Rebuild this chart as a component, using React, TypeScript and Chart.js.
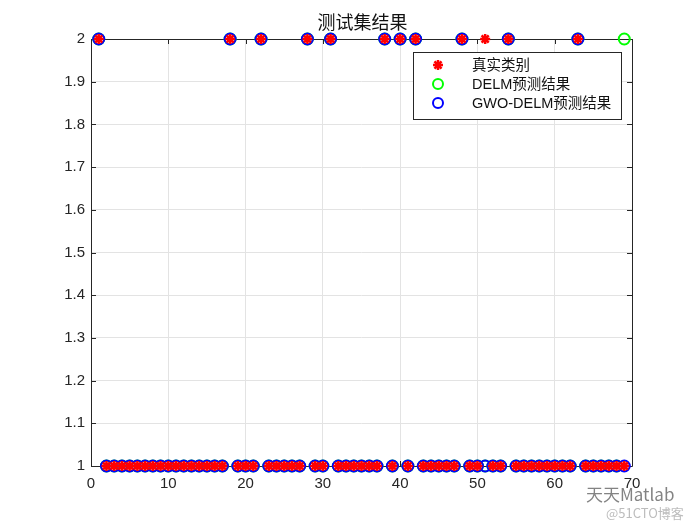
import React, { useEffect, useRef } from 'react';
import { Chart, registerables } from 'chart.js';
Chart.register(...registerables);

const sampleIndex = [
  1, 2, 3, 4, 5, 6, 7, 8, 9, 10, 11, 12, 13, 14, 15, 16, 17, 18, 19, 20,
  21, 22, 23, 24, 25, 26, 27, 28, 29, 30, 31, 32, 33, 34, 35, 36, 37, 38, 39, 40,
  41, 42, 43, 44, 45, 46, 47, 48, 49, 50, 51, 52, 53, 54, 55, 56, 57, 58, 59, 60,
  61, 62, 63, 64, 65, 66, 67, 68, 69,
];
const trueClass = [
  2, 1, 1, 1, 1, 1, 1, 1, 1, 1,
  1, 1, 1, 1, 1, 1, 1, 2, 1, 1,
  1, 2, 1, 1, 1, 1, 1, 2, 1, 1,
  2, 1, 1, 1, 1, 1, 1, 2, 1, 2,
  1, 2, 1, 1, 1, 1, 1, 2, 1, 1,
  2, 1, 1, 2, 1, 1, 1, 1, 1, 1,
  1, 1, 2, 1, 1, 1, 1, 1, 1,
];
const delmPred = [
  2, 1, 1, 1, 1, 1, 1, 1, 1, 1,
  1, 1, 1, 1, 1, 1, 1, 2, 1, 1,
  1, 2, 1, 1, 1, 1, 1, 2, 1, 1,
  2, 1, 1, 1, 1, 1, 1, 2, 1, 2,
  1, 2, 1, 1, 1, 1, 1, 2, 1, 1,
  1, 1, 1, 2, 1, 1, 1, 1, 1, 1,
  1, 1, 2, 1, 1, 1, 1, 1, 2,
];
const gwoPred = [
  2, 1, 1, 1, 1, 1, 1, 1, 1, 1,
  1, 1, 1, 1, 1, 1, 1, 2, 1, 1,
  1, 2, 1, 1, 1, 1, 1, 2, 1, 1,
  2, 1, 1, 1, 1, 1, 1, 2, 1, 2,
  1, 2, 1, 1, 1, 1, 1, 2, 1, 1,
  1, 1, 1, 2, 1, 1, 1, 1, 1, 1,
  1, 1, 2, 1, 1, 1, 1, 1, 1,
];
const seriesNames = ['真实类别', 'DELM预测结果', 'GWO-DELM预测结果'];
const titleText = '测试集结果';
const watermark1 = '天天Matlab';
const watermark2 = '@51CTO博客';

const AX = '#262626';
const GRID = '#e3e3e3';
const FONT = '"Liberation Sans", Arial, "Noto Sans CJK SC", sans-serif';

const decor = {
  id: 'matlabDecor',
  beforeDatasetsDraw(chart: any) {
    const { ctx, chartArea: a, scales } = chart;
    ctx.save();
    ctx.strokeStyle = AX;
    ctx.lineWidth = 1;
    ctx.beginPath();
    ctx.rect(Math.round(a.left) + 0.5, Math.round(a.top) + 0.5, Math.round(a.right - a.left), Math.round(a.bottom - a.top));
    ctx.stroke();
    const tl = 5;
    ctx.beginPath();
    scales.x.ticks.forEach((t: any) => {
      const px = Math.round(scales.x.getPixelForValue(t.value)) + 0.5;
      ctx.moveTo(px, a.bottom); ctx.lineTo(px, a.bottom - tl);
      ctx.moveTo(px, a.top); ctx.lineTo(px, a.top + tl);
    });
    scales.y.ticks.forEach((t: any) => {
      const py = Math.round(scales.y.getPixelForValue(t.value)) + 0.5;
      ctx.moveTo(a.left, py); ctx.lineTo(a.left + tl, py);
      ctx.moveTo(a.right, py); ctx.lineTo(a.right - tl, py);
    });
    ctx.stroke();
    ctx.restore();
  },
  afterDraw(chart: any) {
    const { ctx, chartArea: a } = chart;
    ctx.save();
    // title
    ctx.fillStyle = '#111';
    ctx.font = '18px "Noto Sans CJK SC", sans-serif';
    ctx.textAlign = 'center';
    ctx.textBaseline = 'middle';
    ctx.fillText(titleText, (a.left + a.right) / 2 + 1, 22);
    // legend
    const bx = 413, by = 52, bw = 208, bh = 67;
    ctx.fillStyle = '#fff';
    ctx.fillRect(bx, by, bw, bh);
    ctx.strokeStyle = AX;
    ctx.lineWidth = 1;
    ctx.strokeRect(bx + 0.5, by + 0.5, bw, bh);
    const rows = [65, 84, 103];
    ctx.font = '14.5px ' + FONT;
    ctx.textAlign = 'left';
    ctx.textBaseline = 'middle';
    rows.forEach((y, i) => {
      const mx = 438;
      if (i === 0) {
        ctx.strokeStyle = '#ff0000';
        ctx.lineWidth = 2.5;
        ctx.beginPath();
        for (let k = 0; k < 4; k++) {
          const ang = (k * Math.PI) / 4;
          const r = 5;
          ctx.moveTo(mx - r * Math.cos(ang), y - r * Math.sin(ang));
          ctx.lineTo(mx + r * Math.cos(ang), y + r * Math.sin(ang));
        }
        ctx.stroke();
      } else {
        ctx.strokeStyle = i === 1 ? '#00ff00' : '#0000ff';
        ctx.lineWidth = 2;
        ctx.beginPath();
        ctx.arc(mx, y, 5, 0, Math.PI * 2);
        ctx.stroke();
      }
      ctx.fillStyle = '#111';
      ctx.fillText(seriesNames[i], 472, y + 1);
    });
    // watermark
    ctx.fillStyle = 'rgba(90,90,90,0.75)';
    ctx.font = '17px "Noto Sans CJK SC", sans-serif';
    ctx.fillText(watermark1, 586, 495);
    ctx.fillStyle = 'rgba(160,160,160,0.7)';
    ctx.font = '13px "Noto Sans CJK SC", sans-serif';
    ctx.fillText(watermark2, 606, 513);
    ctx.restore();
  },
};

export default function App() {
  const ref = useRef<HTMLCanvasElement | null>(null);
  useEffect(() => {
    if (!ref.current) return;
    const mk = (vals: number[]) => sampleIndex.map((x, i) => ({ x, y: vals[i] }));
    const chart = new Chart(ref.current, {
      type: 'scatter',
      data: {
        datasets: [
          {
            label: seriesNames[0],
            data: mk(trueClass),
            pointStyle: 'star',
            pointRadius: 5,
            pointBorderWidth: 2.5,
            borderColor: '#ff0000',
            backgroundColor: '#ff0000',
            order: 0,
            clip: false,
          } as any,
          {
            label: seriesNames[1],
            data: mk(delmPred),
            pointStyle: 'circle',
            pointRadius: 5.5,
            pointBorderWidth: 2,
            borderColor: '#00ff00',
            backgroundColor: 'rgba(0,0,0,0)',
            order: 2,
            clip: false,
          } as any,
          {
            label: seriesNames[2],
            data: mk(gwoPred),
            pointStyle: 'circle',
            pointRadius: 5.5,
            pointBorderWidth: 2,
            borderColor: '#0000ff',
            backgroundColor: 'rgba(0,0,0,0)',
            order: 1,
            clip: false,
          } as any,
        ],
      },
      options: {
        animation: false,
        responsive: false,
        maintainAspectRatio: false,
        layout: { padding: { left: 0, top: 39, right: 68, bottom: 0 } },
        plugins: {
          legend: { display: false },
          tooltip: { enabled: false },
          title: { display: false },
        },
        scales: {
          x: {
            type: 'linear',
            min: 0,
            max: 70,
            ticks: { stepSize: 10, color: AX, font: { family: FONT, size: 15 }, padding: 9 },
            grid: { color: GRID, drawTicks: false },
            border: { display: false },
            afterFit: (s: any) => { s.height = 59; },
          },
          y: {
            type: 'linear',
            min: 1,
            max: 2,
            ticks: {
              stepSize: 0.1,
              color: AX,
              font: { family: FONT, size: 15 },
              padding: 6,
              callback: (v: any) => String(Number(Number(v).toFixed(1))),
            },
            grid: { color: GRID, drawTicks: false },
            border: { display: false },
            afterFit: (s: any) => { s.width = 91; },
          },
        },
      } as any,
      plugins: [decor],
    });
    return () => chart.destroy();
  }, []);
  return (
    <div style={{ position: 'fixed', left: 0, top: 0, width: 700, height: 525, background: '#fff' }}>
      <canvas ref={ref} width={700} height={525} style={{ width: 700, height: 525 }} />
    </div>
  );
}
